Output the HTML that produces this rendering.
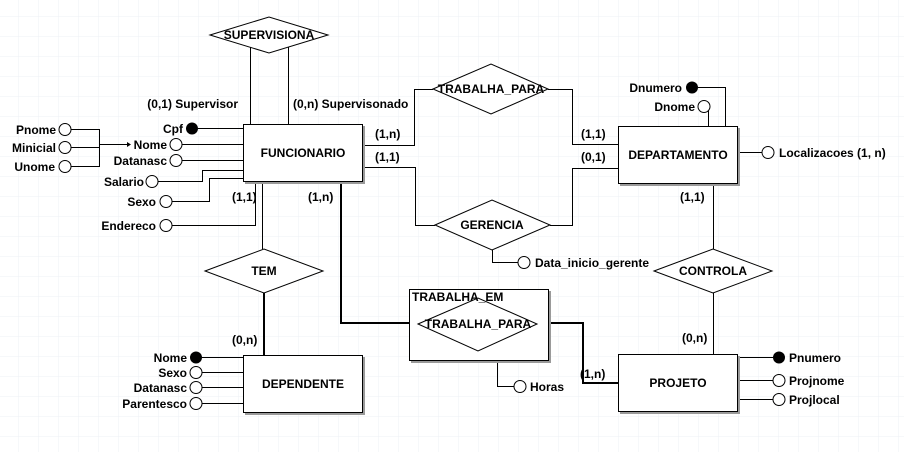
<!DOCTYPE html>
<html><head><meta charset="utf-8"><style>
html,body{margin:0;padding:0;background:#fff}
svg{display:block}
text{font-family:"Liberation Sans",Arial,sans-serif;font-weight:bold;font-size:12px;fill:#000}
</style></head><body>
<svg width="904" height="452" viewBox="0 0 904 452" xmlns="http://www.w3.org/2000/svg">
<defs>
<pattern id="g" x="-1" y="-3" width="20" height="20" patternUnits="userSpaceOnUse">
<path d="M20 0V20M0 20H20" stroke="#eef1f5" stroke-width="1" fill="none"/>
</pattern>
</defs>
<rect width="904" height="452" fill="url(#g)"/>
<g stroke="#000" stroke-width="1" fill="none">
<path d="M250.5 46V124M288.5 46V124"/>
<path d="M362 145.5H414.5V89.5H433M548 89.5H572.5V144.5H618"/>
<path d="M362 167.5H415.5V225.5H435M550 225.5H572.5V168.5H618"/>
<path d="M492.5 250V262.5H518"/>
<path d="M713.5 183V249M713.5 293V354"/>
<path d="M737 152.5H762M698 87.5H725.5V126M710 106.5H708.5V126"/>
<path d="M262.5 181V249"/>
<path d="M497.5 360V386.5H514"/>
<path d="M737 357.5H773M737 380.5H773M737 399.5H773"/>
<path d="M202 357.5H243M202 372.5H243M202 387.5H243M202 403.5H243"/>
<path d="M198 128.5H243M182 144.5H243M182 160.5H243M158 181.5H202.5V170.5H243M172 201.5H209.5V178.5H243M172 225.5H255.5V181"/>
<path d="M71 129.5H99.5V166.5H71M71 147.5H99M99 144.5H130"/>
</g>
<path d="M127 142L131 144.5L127 147Z" fill="#000"/>
<g stroke="#000" stroke-width="2" fill="none">
<path d="M264 293V355"/>
<path d="M341 181V323H418M537 323H583V383H618"/>
</g>
<g fill="#9a9a9a">
<rect x="245" y="126" width="120" height="58"/>
<rect x="620" y="128" width="120" height="58"/>
<rect x="245" y="357" width="120" height="58"/>
<rect x="620" y="356" width="120" height="58"/>
<rect x="411" y="291" width="140" height="72"/>
</g>
<g fill="#fff" stroke="#000">
<rect x="243.5" y="124.5" width="119" height="57"/>
<rect x="618.5" y="126.5" width="119" height="57"/>
<rect x="243.5" y="355.5" width="119" height="57"/>
<rect x="618.5" y="354.5" width="119" height="57"/>
<rect x="409.5" y="289.5" width="139" height="71"/>
<polygon points="210,35 269,17 328,35 269,53"/>
<polygon points="433,89 491,64 548,89 491,114"/>
<polygon points="435,225 492,200 550,225 492,250"/>
<polygon points="205,271 264,249 323,271 264,293"/>
<polygon points="654,271 713,249 772,271 713,293"/>
<polygon points="418,324 478,298 537,324 478,351"/>
</g>
<g fill="#fff" stroke="#000">
<circle cx="65" cy="129.5" r="6"/><circle cx="65" cy="147.5" r="6"/><circle cx="65" cy="166.5" r="6"/>
<circle cx="176" cy="144.5" r="6"/><circle cx="176" cy="160.5" r="6"/><circle cx="152" cy="181.5" r="6"/>
<circle cx="166" cy="201.5" r="6"/><circle cx="166" cy="225.5" r="6"/>
<circle cx="196" cy="372.5" r="6"/><circle cx="196" cy="387.5" r="6"/><circle cx="196" cy="403.5" r="6"/>
<circle cx="779" cy="380.5" r="6"/><circle cx="779" cy="399.5" r="6"/>
<circle cx="768" cy="152.5" r="6"/><circle cx="704" cy="106.5" r="6"/>
<circle cx="524" cy="262.5" r="6"/><circle cx="520" cy="386.5" r="6"/>
</g>
<g fill="#000">
<circle cx="192" cy="128.5" r="6"/><circle cx="196" cy="357.5" r="6"/>
<circle cx="779" cy="357.5" r="6"/><circle cx="692" cy="87.5" r="6"/>
</g>
<g text-anchor="middle">
<text x="303" y="157">FUNCIONARIO</text>
<text x="678" y="159">DEPARTAMENTO</text>
<text x="303" y="388">DEPENDENTE</text>
<text x="678" y="387">PROJETO</text>
<text x="269" y="39">SUPERVISIONA</text>
<text x="491" y="93">TRABALHA_PARA</text>
<text x="492" y="229">GERENCIA</text>
<text x="264" y="275">TEM</text>
<text x="713" y="275">CONTROLA</text>
<text x="478" y="328">TRABALHA_PARA</text>
</g>
<text x="412" y="301">TRABALHA_EM</text>
<g text-anchor="end">
<text x="56" y="134">Pnome</text>
<text x="56" y="152">Minicial</text>
<text x="55" y="171">Unome</text>
<text x="183" y="133">Cpf</text>
<text x="167" y="149">Nome</text>
<text x="167" y="165">Datanasc</text>
<text x="144" y="186">Salario</text>
<text x="156" y="206">Sexo</text>
<text x="156" y="230">Endereco</text>
<text x="187" y="362">Nome</text>
<text x="187" y="377">Sexo</text>
<text x="187" y="392">Datanasc</text>
<text x="187" y="408">Parentesco</text>
<text x="682" y="92">Dnumero</text>
<text x="695" y="111">Dnome</text>
<text x="238" y="108">(0,1) Supervisor</text>
</g>
<text x="293" y="108">(0,n) Supervisonado</text>
<text x="375" y="138">(1,n)</text>
<text x="375" y="161">(1,1)</text>
<text x="581" y="138">(1,1)</text>
<text x="581" y="161">(0,1)</text>
<text x="680" y="201">(1,1)</text>
<text x="682" y="342">(0,n)</text>
<text x="232" y="201">(1,1)</text>
<text x="308" y="201">(1,n)</text>
<text x="232" y="344">(0,n)</text>
<text x="580" y="378">(1,n)</text>
<text x="779" y="157">Localizacoes (1, n)</text>
<text x="535" y="267">Data_inicio_gerente</text>
<text x="530" y="391">Horas</text>
<text x="789" y="362">Pnumero</text>
<text x="789" y="385">Projnome</text>
<text x="789" y="404">Projlocal</text>
</svg>
</body></html>
